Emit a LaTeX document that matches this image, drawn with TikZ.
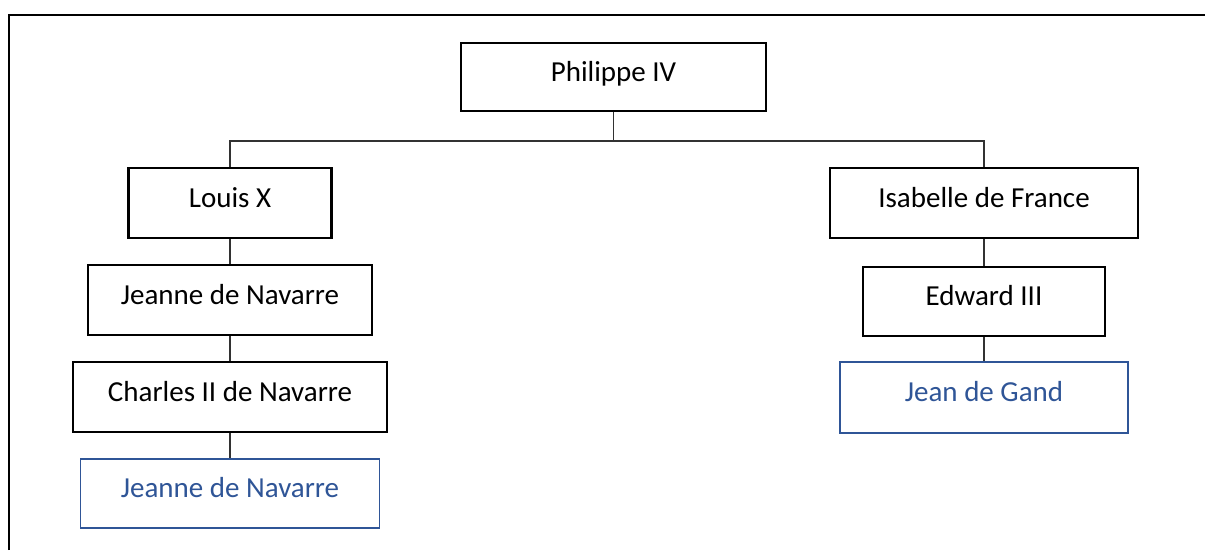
\documentclass[tikz,border=0pt]{standalone}
\usepackage{fontspec}
\setmainfont{Carlito}
\definecolor{wordblue}{RGB}{47,85,151}
\definecolor{linegray}{RGB}{50,50,50}
\begin{document}
\begin{tikzpicture}[x=1pt,y=-1pt,
  person/.style={draw=black,line width=2.4pt,inner sep=0pt,
    text height=18.3pt,text depth=10pt,
    font=\fontsize{29}{35}\selectfont},
  heir/.style={person,draw=wordblue,line width=1.9pt,text=wordblue},
  link/.style={draw=linegray,line width=1.2pt}]
\useasboundingbox (0,0) rectangle (1205,550);
\fill[white] (0,0) rectangle (1205,550);
\draw[line width=2.5pt] (9,550) -- (9,15) -- (1205,15);
\node[person,minimum width=305pt,minimum height=68pt] (P) at (613.5,77) {Philippe IV};
\node[person,minimum width=203pt,minimum height=70pt] (L) at (230,203) {Louis X};
\node[person,minimum width=284pt,minimum height=70pt] (J1) at (230,300) {Jeanne de Navarre};
\node[person,minimum width=314pt,minimum height=70pt] (C) at (230,397) {Charles II de Navarre};
\node[heir,minimum width=299pt,minimum height=69pt] (J2) at (230,493.5) {Jeanne de Navarre};
\node[person,minimum width=308pt,minimum height=70pt] (I) at (984,203) {Isabelle de France};
\node[person,minimum width=242pt,minimum height=69pt] (E) at (984,301.5) {Edward III};
\node[heir,minimum width=288pt,minimum height=71pt] (G) at (984,397.5) {Jean de Gand};
\coordinate (bus) at (613.5,141);
\draw[link] (P.south) -- (bus);
\draw[link] (L.north) |- (bus) -| (I.north);
\draw[link] (L.south) -- (J1.north);
\draw[link] (J1.south) -- (C.north);
\draw[link] (C.south) -- (J2.north);
\draw[link] (I.south) -- (E.north);
\draw[link] (E.south) -- (G.north);
\end{tikzpicture}
\end{document}
